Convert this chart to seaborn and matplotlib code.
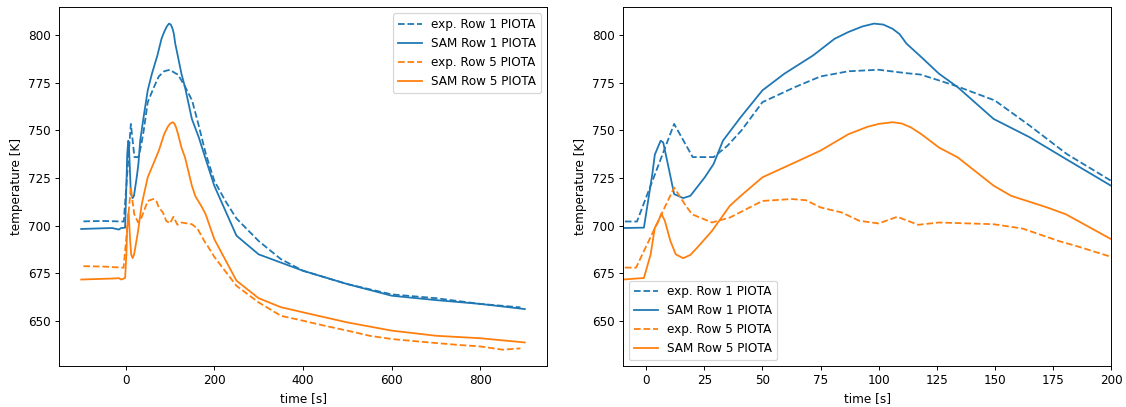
import matplotlib
matplotlib.use("Agg")
import matplotlib.pyplot as plt
import seaborn as sns
import numpy as np

# ---- data ----
exp1_t = [-95, -50, -4, 12, 20, 29, 35, 41, 50, 64, 75, 87, 100, 112, 118, 126, 134, 150, 165, 181, 200, 225, 250, 300, 350, 400, 500, 600, 700, 800, 890]
exp1_T = [702.3, 702.5, 702.2, 753.4, 736, 736, 742, 750, 764.8, 772.7, 778.3, 781, 781.8, 780, 779.3, 776.2, 773, 765.7, 752.5, 737.6, 723.6, 713, 703.8, 692, 682.5, 676.4, 669.4, 664, 662, 659, 657.2]

sam1_t = [-100, -60, -30, -15, -10, -1, 2.6, 3.7, 6.2, 7.3, 9.6, 12, 15.9, 19, 25.2, 29, 33, 40.7, 50, 59.4, 71.8, 81, 87, 93, 98, 102, 106, 109, 112, 118.4, 126, 134, 149.5, 165, 180.6, 200, 250, 300, 400, 500, 600, 700, 800, 900]
sam1_T = [698.3, 698.6, 698.8, 698.0, 698.8, 699, 727, 737.3, 744.6, 743.7, 730.6, 716.6, 714.5, 715.7, 725.4, 732.4, 744.6, 757, 771, 779.7, 789.3, 798, 801.6, 804.5, 806, 805.5, 803.3, 800.5, 795.5, 788.4, 779.7, 772.7, 756, 746.4, 735, 721, 694.8, 685, 676.4, 669.4, 663.3, 661, 659, 656.3]

exp5_t = [-95, -50, -4.4, 12, 16.6, 19.7, 28.3, 36, 50, 62.5, 68.7, 75, 84, 91.7, 100, 108, 117, 126, 149.5, 162, 177.5, 185, 200, 250, 300, 350, 400, 450, 500, 550, 600, 650, 700, 750, 800, 850, 890]
exp5_T = [678.8, 678.6, 678, 720, 711.3, 706, 701.7, 704.3, 713, 714, 713.4, 709.6, 707, 702.6, 701.2, 704.7, 700.5, 701.7, 700.8, 698.5, 692, 689.4, 683.7, 668.5, 659.8, 652.8, 650.2, 647.5, 645, 642.3, 640.6, 639.5, 638.5, 637.5, 636.7, 635, 635.7]

sam5_t = [-100, -60, -30, -15, -10, -1, 1.9, 3.7, 5, 6.5, 8, 10.4, 12.7, 15.9, 19, 22, 28.3, 36, 40.7, 50, 64, 75, 87, 95, 100, 106, 110, 114, 118.4, 126, 134, 149.5, 157, 172.5, 180.6, 200, 250, 300, 350, 400, 500, 600, 700, 800, 900]
sam5_T = [671.8, 672.1, 672.3, 672.5, 671.8, 672.6, 685, 699, 701.7, 706.4, 702.6, 692, 685, 683, 684.7, 688.6, 697.3, 710.5, 715.7, 725.4, 733.2, 739.4, 748, 751.8, 753.4, 754.3, 753.6, 751.5, 748, 741, 735.9, 721, 715.7, 709.6, 706, 693, 671.2, 662, 657.3, 654.6, 649.3, 645, 642.3, 641, 638.8]

series = [
    ("exp. Row 1 PIOTA", exp1_t, exp1_T, "#1f77b4", "--"),
    ("SAM Row 1 PIOTA", sam1_t, sam1_T, "#1f77b4", "-"),
    ("exp. Row 5 PIOTA", exp5_t, exp5_T, "#ff7f0e", "--"),
    ("SAM Row 5 PIOTA", sam5_t, sam5_T, "#ff7f0e", "-"),
]

DPI = 86
fig = plt.figure(figsize=(1126 / DPI, 407 / DPI), dpi=DPI)
ax1 = fig.add_axes([59/1126, 41/407, 488/1126, 358.7/407])
ax2 = fig.add_axes([623/1126, 41/407, 488/1126, 358.7/407])

for ax in (ax1, ax2):
    for label, t, T, c, ls in series:
        sns.lineplot(x=np.array(t, dtype=float), y=np.array(T, dtype=float), ax=ax,
                     color=c, linestyle=ls, label=label, estimator=None, sort=False,
                     linewidth=1.5)
    ax.set_xlabel("time [s]")
    ax.set_ylabel("temperature [K]")

ax2.set_xlim(-10, 200)
ax2.set_ylim(ax1.get_ylim())
ax1.legend(loc="upper right")
ax2.legend(loc="lower left")

fig.savefig("out.png", dpi=DPI)
